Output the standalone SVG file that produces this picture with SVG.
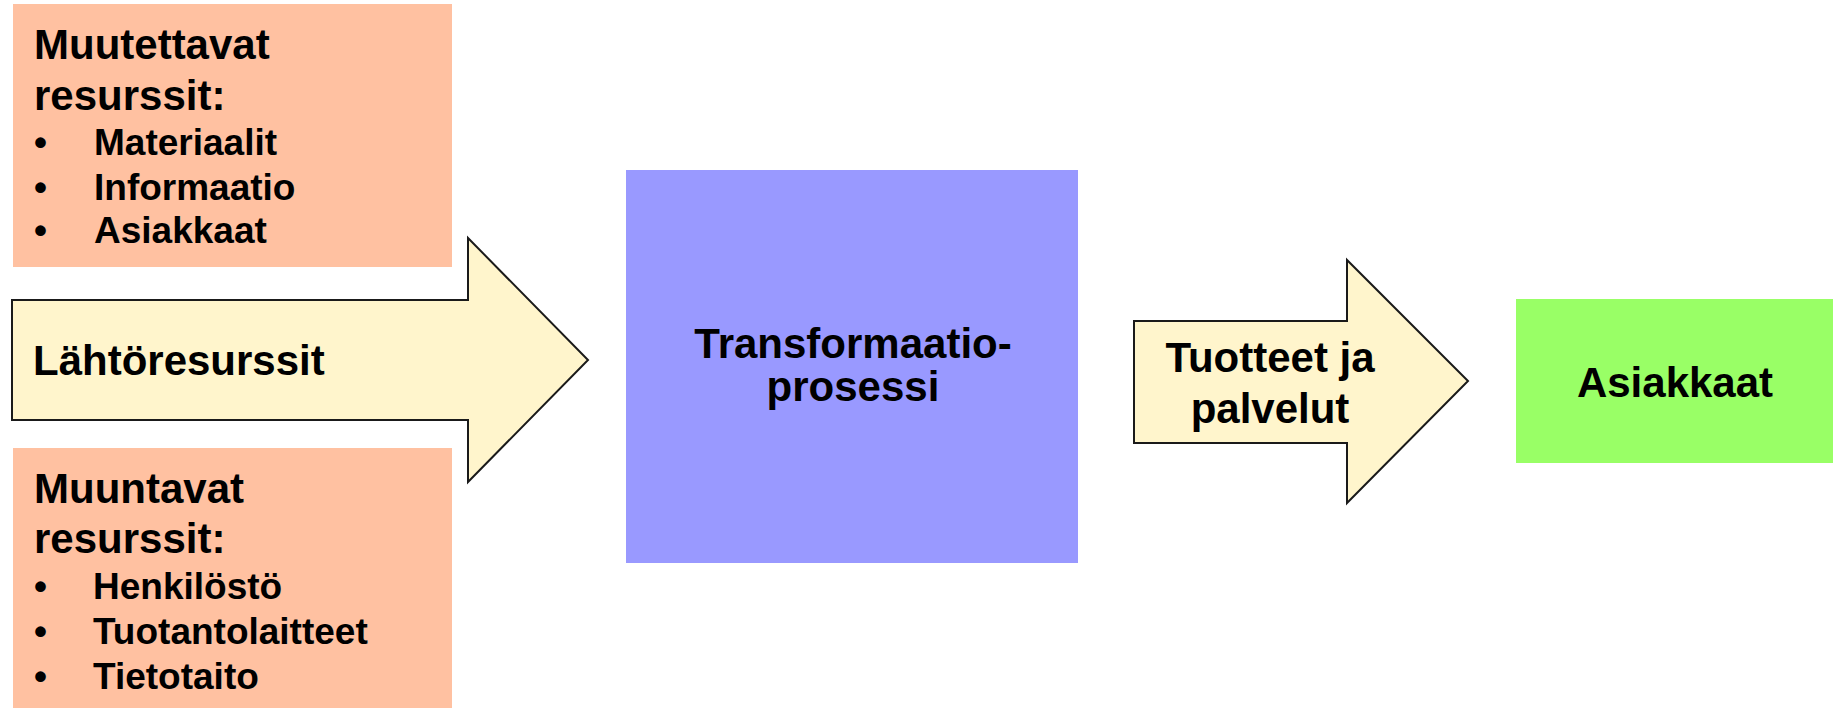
<svg xmlns="http://www.w3.org/2000/svg" width="1838" height="708" viewBox="0 0 1838 708">
<style>
text{font-family:"Liberation Sans",Arial,sans-serif;font-weight:bold;fill:#000}
.h{font-size:42px}
.b{font-size:37px}
.c{text-anchor:middle}
.res{fill:#FFC1A1}
.arr{fill:#FFF5CC;stroke:#1a1a1a;stroke-width:2;stroke-linejoin:miter}
</style>
<rect width="1838" height="708" fill="#fff"/>
<g id="muutettavat">
<rect class="res" x="13" y="4" width="439" height="263"/>
<text class="h" x="34" y="59">Muutettavat</text>
<text class="h" x="34" y="110">resurssit:</text>
<text class="b" x="34" y="155">•</text><text class="b" x="94" y="155">Materiaalit</text>
<text class="b" x="34" y="200">•</text><text class="b" x="94" y="200">Informaatio</text>
<text class="b" x="34" y="243">•</text><text class="b" x="94" y="243">Asiakkaat</text>
</g>
<g id="muuntavat">
<rect class="res" x="13" y="448" width="439" height="263"/>
<text class="h" x="34" y="503">Muuntavat</text>
<text class="h" x="34" y="553">resurssit:</text>
<text class="b" x="34" y="599">•</text><text class="b" x="93" y="599">Henkilöstö</text>
<text class="b" x="34" y="644">•</text><text class="b" x="93" y="644">Tuotantolaitteet</text>
<text class="b" x="34" y="689">•</text><text class="b" x="93" y="689">Tietotaito</text>
</g>
<g id="connectors">
<g id="lahtoresurssit">
<polygon class="arr" points="12,300 468,300 468,238 588,360 468,482 468,420 12,420"/>
<text class="h" x="33" y="375">Lähtöresurssit</text>
</g>
<g id="tuotteet">
<polygon class="arr" points="1134,321 1347,321 1347,260 1468,381 1347,503 1347,443 1134,443"/>
<text class="h c" x="1270" y="372">Tuotteet ja</text>
<text class="h c" x="1270" y="423">palvelut</text>
</g>
</g>
<g id="transformaatio">
<rect x="626" y="170" width="452" height="393" fill="#9999FF"/>
<text class="h c" x="853" y="358">Transformaatio-</text>
<text class="h c" x="853" y="401">prosessi</text>
</g>
<g id="asiakkaat">
<rect x="1516" y="299" width="317" height="164" fill="#99FF66"/>
<text class="h c" x="1675" y="397">Asiakkaat</text>
</g>
</svg>
